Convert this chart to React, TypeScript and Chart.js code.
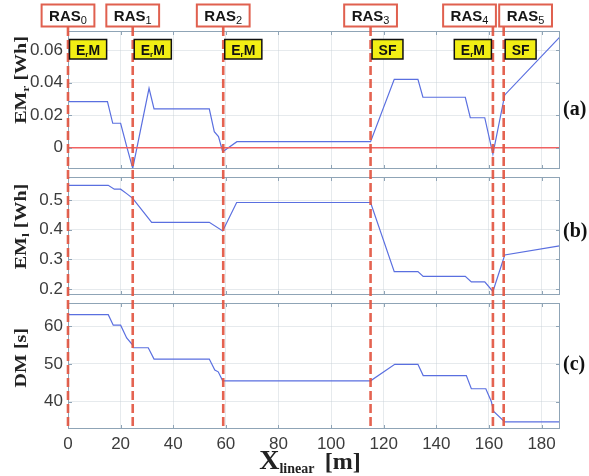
import React, { useEffect, useRef } from 'react';
import { Chart, registerables } from 'chart.js';
Chart.register(...registerables);

// ---------- data ----------
const xTicks = [0, 20, 40, 60, 80, 100, 120, 140, 160, 180];
const xMax = 187;

const rasX = [0, 24.6, 59, 115, 161.5, 165.6];
const rasSubs = ['0', '1', '2', '3', '4', '5'];
const rasAlign = ['center', 'center', 'center', 'center', 'end', 'start'];
const modes = ['ErM', 'ErM', 'ErM', 'SF', 'ErM', 'SF'];
const modeAlign = ['start', 'start', 'start', 'start', 'end', 'start'];

const emrX = [0, 15.0, 17.0, 20.0, 22.3, 24.6, 30.8, 32.7, 53.7, 55.6, 57.2, 58.8, 64.2, 115, 124, 133, 134.9, 151, 152.9, 158.4, 161.5, 166, 186.8];
const emrY = [0.0283, 0.0283, 0.015, 0.015, 0.0008, -0.0127, 0.0365, 0.0238, 0.0238, 0.0098, 0.0068, -0.0025, 0.0037, 0.0037, 0.042, 0.042, 0.031, 0.031, 0.0184, 0.0184, -0.0039, 0.0324, 0.0678];
const emrTicks = [0, 0.02, 0.04, 0.06];

const emlX = [0, 15.3, 17.6, 20, 22.3, 24.6, 31.8, 53.7, 58.8, 64.1, 115, 124, 133, 135, 151, 153.3, 158.4, 161.5, 166, 186.8];
const emlY = [0.55, 0.55, 0.537, 0.537, 0.522, 0.506, 0.425, 0.425, 0.396, 0.492, 0.492, 0.259, 0.259, 0.243, 0.243, 0.224, 0.224, 0.192, 0.315, 0.346];
const emlTicks = [0.2, 0.3, 0.4, 0.5];

const dmX = [0, 15.3, 17.2, 20, 22.3, 24.6, 24.8, 30.5, 32.7, 53.7, 55.8, 57.1, 58.8, 115, 124.2, 133, 135, 151.4, 153.3, 158.8, 160.9, 161.8, 166, 186.8];
const dmY = [63.1, 63.1, 60.3, 60.3, 56.9, 55, 54.3, 54.3, 51.3, 51.3, 48.4, 47.9, 45.5, 45.5, 49.9, 49.9, 46.9, 46.9, 43.4, 43.4, 40, 37.4, 34.6, 34.6];
const dmTicks = [40, 50, 60];

// ---------- styles ----------
const SANS = '"Liberation Sans", Arial, sans-serif';
const SERIF = '"Liberation Serif", "Times New Roman", serif';
const lineBlue = '#5a6fe0';
const rasRed = 'rgba(226,86,66,0.92)';
const frameColor = '#8fa4b6';
const gridColor = 'rgba(200,208,214,0.45)';
const tickColor = '#3c3c3c';

type Part = { t: string; font: string; dy: number };

function richWidth(ctx: CanvasRenderingContext2D, parts: Part[]) {
  let w = 0;
  for (const p of parts) { ctx.font = p.font; w += ctx.measureText(p.t).width; }
  return w;
}
function drawRich(ctx: CanvasRenderingContext2D, parts: Part[], x: number, y: number) {
  let cx = x;
  ctx.textAlign = 'left';
  ctx.textBaseline = 'alphabetic';
  for (const p of parts) {
    ctx.font = p.font;
    ctx.fillText(p.t, cx, y + p.dy);
    cx += ctx.measureText(p.t).width;
  }
}

type Panel = {
  key: string; xs: number[]; ys: number[]; min: number; max: number; ticks: number[];
  title: Part[]; titleFrac: number; label: string; labelFrac: number;
  top: number; height: number; padTop: number; padBottom: number; xHeight: number;
};

const panels: Panel[] = [
  {
    key: 'a', xs: emrX, ys: emrY, min: -0.0131, max: 0.0717, ticks: emrTicks,
    title: [
      { t: 'EM', font: `bold 16px ${SERIF}`, dy: 0 },
      { t: 'r', font: `bold 11px ${SERIF}`, dy: 3 },
      { t: ' [Wh]', font: `bold 16px ${SERIF}`, dy: 0 },
    ],
    titleFrac: 0.355, label: '(a)', labelFrac: 0.572,
    top: 0, height: 173, padTop: 31, padBottom: 4, xHeight: 0,
  },
  {
    key: 'b', xs: emlX, ys: emlY, min: 0.18, max: 0.578, ticks: emlTicks,
    title: [
      { t: 'EM', font: `bold 16px ${SERIF}`, dy: 0 },
      { t: 'l', font: `bold 11px ${SERIF}`, dy: 3 },
      { t: ' [Wh]', font: `bold 16px ${SERIF}`, dy: 0 },
    ],
    titleFrac: 0.42, label: '(b)', labelFrac: 0.465,
    top: 173, height: 126, padTop: 4, padBottom: 4, xHeight: 0,
  },
  {
    key: 'c', xs: dmX, ys: dmY, min: 32.7, max: 66.2, ticks: dmTicks,
    title: [{ t: 'DM [s]', font: `bold 16px ${SERIF}`, dy: 0 }],
    titleFrac: 0.434, label: '(c)', labelFrac: 0.49,
    top: 299, height: 177, padTop: 4, padBottom: 0, xHeight: 47,
  },
];

function makePlugin(p: Panel) {
  return {
    id: 'deco' + p.key,
    afterDatasetsDraw(chart: any) {
      const ctx: CanvasRenderingContext2D = chart.ctx;
      const ca = chart.chartArea;
      const xs = chart.scales.x;
      const ys = chart.scales.y;
      ctx.save();
      // frame
      ctx.strokeStyle = frameColor;
      ctx.lineWidth = 1;
      ctx.strokeRect(ca.left + 0.5, ca.top + 0.5, ca.right - ca.left - 1, ca.bottom - ca.top - 1);
      // inward ticks
      ctx.beginPath();
      xTicks.forEach((v) => {
        const px = Math.round(xs.getPixelForValue(v)) + 0.5;
        if (v > 0 && v < xMax) {
          ctx.moveTo(px, ca.top); ctx.lineTo(px, ca.top + 4);
          ctx.moveTo(px, ca.bottom); ctx.lineTo(px, ca.bottom - 4);
        }
      });
      p.ticks.forEach((v) => {
        const py = Math.round(ys.getPixelForValue(v)) + 0.5;
        ctx.moveTo(ca.left, py); ctx.lineTo(ca.left + 4, py);
        ctx.moveTo(ca.right, py); ctx.lineTo(ca.right - 4, py);
      });
      ctx.stroke();

      // dashed RAS lines
      const y0 = p.key === 'a' ? ca.top - 4 : 0;
      const y1 = p.key === 'c' ? ca.bottom : chart.height;
      ctx.strokeStyle = rasRed;
      ctx.lineWidth = 2.6;
      ctx.setLineDash([9, 4]);
      ctx.lineDashOffset = (p.top + y0 - 27) % 13;
      rasX.forEach((v) => {
        const px = xs.getPixelForValue(v);
        ctx.beginPath();
        ctx.moveTo(px, y0);
        ctx.lineTo(px, y1);
        ctx.stroke();
      });
      ctx.setLineDash([]);

      if (p.key === 'a') {
        rasX.forEach((v, i) => {
          const px = xs.getPixelForValue(v);
          // RAS box
          const parts: Part[] = [
            { t: 'RAS', font: `bold 15px ${SANS}`, dy: 0 },
            { t: rasSubs[i], font: `11px ${SANS}`, dy: 3 },
          ];
          const w = richWidth(ctx, parts) + 15;
          const bx = rasAlign[i] === 'center' ? px - w / 2 : rasAlign[i] === 'end' ? px + 3 - w : px - 4.5;
          ctx.fillStyle = '#ffffff';
          ctx.fillRect(bx, 4.5, w, 22);
          ctx.strokeStyle = '#e0604f';
          ctx.lineWidth = 2;
          ctx.strokeRect(bx, 4.5, w, 22);
          ctx.fillStyle = '#151515';
          drawRich(ctx, parts, bx + 7.5, 21);

          // mode box
          const m = modes[i];
          const mparts: Part[] = m === 'ErM'
            ? [
                { t: 'E', font: `bold 14px ${SANS}`, dy: 0 },
                { t: 'r', font: `bold 8px ${SANS}`, dy: 2 },
                { t: 'M', font: `bold 14px ${SANS}`, dy: 0 },
              ]
            : [{ t: m, font: `bold 14px ${SANS}`, dy: 0 }];
          const mw = richWidth(ctx, mparts) + 13;
          const mx = modeAlign[i] === 'end' ? px - 1.5 - mw : px + 1.5;
          ctx.fillStyle = '#f2ee14';
          ctx.fillRect(mx, 39.5, mw, 19.5);
          ctx.strokeStyle = '#111';
          ctx.lineWidth = 1.5;
          ctx.strokeRect(mx, 39.5, mw, 19.5);
          ctx.fillStyle = '#111';
          drawRich(ctx, mparts, mx + 6.5, 54.5);
        });
      }

      // panel label
      ctx.fillStyle = '#111';
      ctx.font = `bold 20px ${SERIF}`;
      ctx.textAlign = 'left';
      ctx.textBaseline = 'middle';
      ctx.fillText(p.label, ca.right + 3, ca.top + p.labelFrac * (ca.bottom - ca.top));

      // y title (rotated)
      ctx.save();
      ctx.translate(20, ca.top + p.titleFrac * (ca.bottom - ca.top));
      ctx.rotate(-Math.PI / 2);
      ctx.scale(1.25, 1);
      const tw = richWidth(ctx, p.title);
      ctx.fillStyle = '#222';
      drawRich(ctx, p.title, -tw / 2, 6);
      ctx.restore();

      // x title
      if (p.key === 'c') {
        const xparts: Part[] = [
          { t: 'X', font: `bold 28px ${SERIF}`, dy: 0 },
          { t: 'linear', font: `bold 14px ${SERIF}`, dy: 4 },
          { t: '   ', font: `bold 14px ${SERIF}`, dy: 0 },
          { t: '[m]', font: `bold 24px ${SERIF}`, dy: 0 },
        ];
        const xw = richWidth(ctx, xparts);
        const cx = (ca.left + ca.right) / 2 - 4;
        ctx.fillStyle = '#222';
        drawRich(ctx, xparts, cx - xw / 2, 170);
      }
      ctx.restore();
    },
  };
}

function makeConfig(p: Panel): any {
  const datasets: any[] = [
    {
      data: p.xs.map((x, i) => ({ x, y: p.ys[i] })),
      borderColor: lineBlue,
      borderWidth: 1.2,
      pointRadius: 0,
      tension: 0,
      fill: false,
    },
  ];
  if (p.key === 'a') {
    datasets.unshift({
      data: [{ x: 0, y: 0 }, { x: xMax, y: 0 }],
      borderColor: '#f06262',
      borderWidth: 1.5,
      pointRadius: 0,
      fill: false,
    });
  }
  return {
    type: 'line',
    data: { datasets },
    options: {
      responsive: false,
      animation: false,
      events: [],
      layout: { padding: { top: p.padTop, bottom: p.padBottom, left: 0, right: 29 } },
      plugins: { legend: { display: false }, tooltip: { enabled: false }, title: { display: false } },
      scales: {
        x: {
          type: 'linear',
          min: 0,
          max: xMax,
          afterBuildTicks: (s: any) => { s.ticks = xTicks.map((v) => ({ value: v })); },
          afterFit: (s: any) => { s.height = p.xHeight; s.paddingLeft = 0; s.paddingRight = 0; },
          ticks: {
            display: p.key === 'c',
            autoSkip: false,
            maxRotation: 0,
            padding: 5,
            color: tickColor,
            font: { family: SANS, size: 17 },
            callback: (v: any) => String(v),
          },
          grid: { color: gridColor, drawTicks: false, lineWidth: 1 },
          border: { display: false },
        },
        y: {
          type: 'linear',
          min: p.min,
          max: p.max,
          afterBuildTicks: (s: any) => { s.ticks = p.ticks.map((v) => ({ value: v })); },
          afterFit: (s: any) => { s.width = 68; s.paddingTop = 0; s.paddingBottom = 0; },
          ticks: {
            padding: 5,
            color: tickColor,
            font: { family: SANS, size: 17 },
            callback: (v: any) => String(v),
          },
          grid: { color: gridColor, drawTicks: false, lineWidth: 1 },
          border: { display: false },
        },
      },
    },
    plugins: [makePlugin(p)],
  };
}

export default function App() {
  const refA = useRef<HTMLCanvasElement>(null);
  const refB = useRef<HTMLCanvasElement>(null);
  const refC = useRef<HTMLCanvasElement>(null);

  useEffect(() => {
    const refs = [refA, refB, refC];
    const charts = panels.map((p, i) => new Chart(refs[i].current as HTMLCanvasElement, makeConfig(p)));
    return () => charts.forEach((c) => c.destroy());
  }, []);

  const refs = [refA, refB, refC];
  return (
    <div style={{ position: 'fixed', left: 0, top: 0, width: 589, height: 476, background: '#ffffff' }}>
      {panels.map((p, i) => (
        <canvas
          key={p.key}
          ref={refs[i]}
          width={589}
          height={p.height}
          style={{ position: 'absolute', left: 0, top: p.top, width: 589, height: p.height, display: 'block' }}
        />
      ))}
    </div>
  );
}
